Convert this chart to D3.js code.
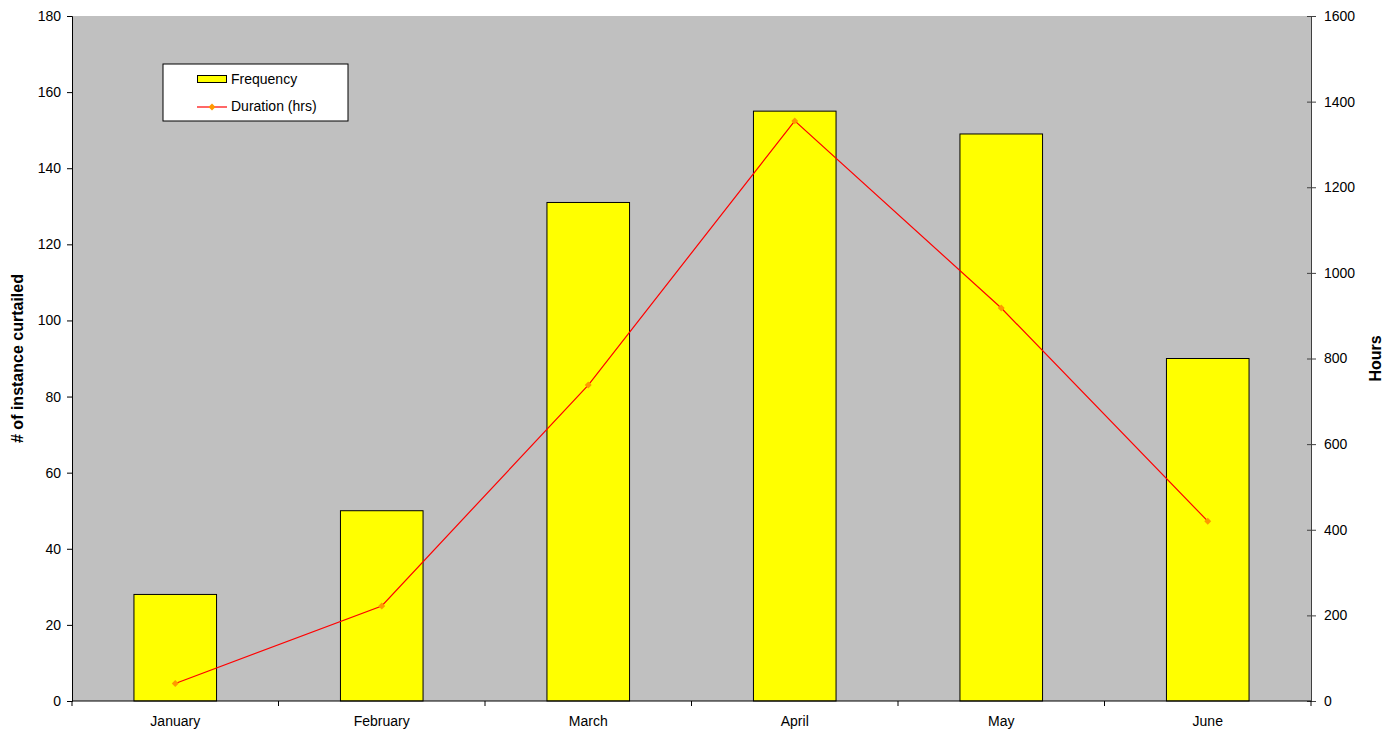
<!DOCTYPE html>
<html>
<head>
<meta charset="utf-8">
<script src="https://cdn.jsdelivr.net/npm/d3@7"></script>
<style>
  body { margin: 0; background: #fff; }
  text { font-family: "Liberation Sans", Arial, sans-serif; }
</style>
</head>
<body>
<div id="container"></div>
<script>
// Data
var months = ["January", "February", "March", "April", "May", "June"];
var frequency = [28, 50, 131, 155, 149, 90];          // # of instance curtailed
var duration = [41, 222, 738, 1355, 918, 420];        // hours
var leftTicks = [0, 20, 40, 60, 80, 100, 120, 140, 160, 180];
var rightTicks = [0, 200, 400, 600, 800, 1000, 1200, 1400, 1600];

var w = 1396, h = 731;
var plotLeft = 72, plotRight = 1311, plotTop = 16, plotBottom = 701;

var svg = d3.select("#container").append("svg")
  .attr("width", w)
  .attr("height", h);

var x = d3.scaleBand().domain(months).range([plotLeft, plotRight]).paddingInner(0).paddingOuter(0);
var yL = d3.scaleLinear().domain([0, 180]).range([plotBottom, plotTop]);
var yR = d3.scaleLinear().domain([0, 1600]).range([plotBottom, plotTop]);

// plot background
svg.append("rect")
  .attr("x", plotLeft).attr("y", plotTop)
  .attr("width", plotRight - plotLeft).attr("height", plotBottom - plotTop)
  .attr("fill", "#c0c0c0");

// bars
var barW = x.bandwidth() * 0.4;
svg.selectAll("rect.bar")
  .data(frequency)
  .enter()
  .append("rect")
  .attr("class", "bar")
  .attr("x", function(d, i) { return x(months[i]) + (x.bandwidth() - barW) / 2; })
  .attr("y", function(d) { return yL(d); })
  .attr("width", barW)
  .attr("height", function(d) { return plotBottom - yL(d); })
  .attr("fill", "#ffff00")
  .attr("stroke", "#000")
  .attr("stroke-width", 1);

// left axis
var axL = svg.append("g")
  .attr("transform", "translate(" + plotLeft + ",0)")
  .call(d3.axisLeft(yL).tickValues(leftTicks).tickSize(5).tickPadding(6));
axL.select(".domain").attr("stroke", "#000");
axL.selectAll("text").attr("font-size", 14).attr("fill", "#000");

// right axis (ticks cross the line)
var axR = svg.append("g")
  .attr("transform", "translate(" + plotRight + ",0)")
  .call(d3.axisRight(yR).tickValues(rightTicks).tickFormat(d3.format("d")).tickSize(5).tickPadding(8));
axR.select(".domain").attr("stroke", "#404040");
axR.selectAll(".tick line").attr("x1", -4).attr("stroke", "#404040");
axR.selectAll("text").attr("font-size", 14).attr("fill", "#000");

// bottom axis: ticks on category boundaries
svg.append("line")
  .attr("x1", plotLeft).attr("x2", plotRight)
  .attr("y1", plotBottom).attr("y2", plotBottom)
  .attr("stroke", "#000");
var bounds = months.map(function(m) { return x(m); }).concat([plotRight]);
svg.selectAll("line.xtick")
  .data(bounds)
  .enter()
  .append("line")
  .attr("x1", function(d) { return d; })
  .attr("x2", function(d) { return d; })
  .attr("y1", plotBottom).attr("y2", plotBottom + 5)
  .attr("stroke", "#000");
svg.selectAll("text.xlab")
  .data(months)
  .enter()
  .append("text")
  .attr("x", function(d) { return x(d) + x.bandwidth() / 2; })
  .attr("y", 726)
  .attr("text-anchor", "middle")
  .attr("font-size", 14)
  .text(function(d) { return d; });

// duration line
var line = d3.line()
  .x(function(d, i) { return x(months[i]) + x.bandwidth() / 2; })
  .y(function(d) { return yR(d); });
svg.append("path")
  .datum(duration)
  .attr("d", line)
  .attr("fill", "none")
  .attr("stroke", "#ff0000")
  .attr("stroke-width", 1.2);
var diamond = d3.symbol().type(d3.symbolSquare).size(24);
svg.selectAll("path.pt")
  .data(duration)
  .enter()
  .append("path")
  .attr("class", "pt")
  .attr("d", diamond)
  .attr("transform", function(d, i) {
    return "translate(" + (x(months[i]) + x.bandwidth() / 2) + "," + yR(d) + ") rotate(45)";
  })
  .attr("fill", "#ff9900");

// axis titles
svg.append("text")
  .attr("transform", "translate(23," + ((plotTop + plotBottom) / 2) + ") rotate(-90)")
  .attr("text-anchor", "middle")
  .attr("font-size", 16)
  .attr("font-weight", "bold")
  .text("# of instance curtailed");
svg.append("text")
  .attr("transform", "translate(1381," + ((plotTop + plotBottom) / 2) + ") rotate(-90)")
  .attr("text-anchor", "middle")
  .attr("font-size", 16)
  .attr("font-weight", "bold")
  .text("Hours");

// legend
var lg = svg.append("g");
lg.append("rect")
  .attr("x", 163).attr("y", 64)
  .attr("width", 185).attr("height", 57)
  .attr("fill", "#fff").attr("stroke", "#000");
lg.append("rect")
  .attr("x", 197.5).attr("y", 75.5)
  .attr("width", 29).attr("height", 7)
  .attr("fill", "#ffff00").attr("stroke", "#000");
lg.append("text")
  .attr("x", 231).attr("y", 84)
  .attr("font-size", 14)
  .text("Frequency");
lg.append("line")
  .attr("x1", 197).attr("x2", 227)
  .attr("y1", 107).attr("y2", 107)
  .attr("stroke", "#ff0000").attr("stroke-width", 1.2);
lg.append("path")
  .attr("d", diamond)
  .attr("transform", "translate(212,107) rotate(45)")
  .attr("fill", "#ff9900");
lg.append("text")
  .attr("x", 231).attr("y", 111)
  .attr("font-size", 14)
  .text("Duration (hrs)");
</script>
</body>
</html>
